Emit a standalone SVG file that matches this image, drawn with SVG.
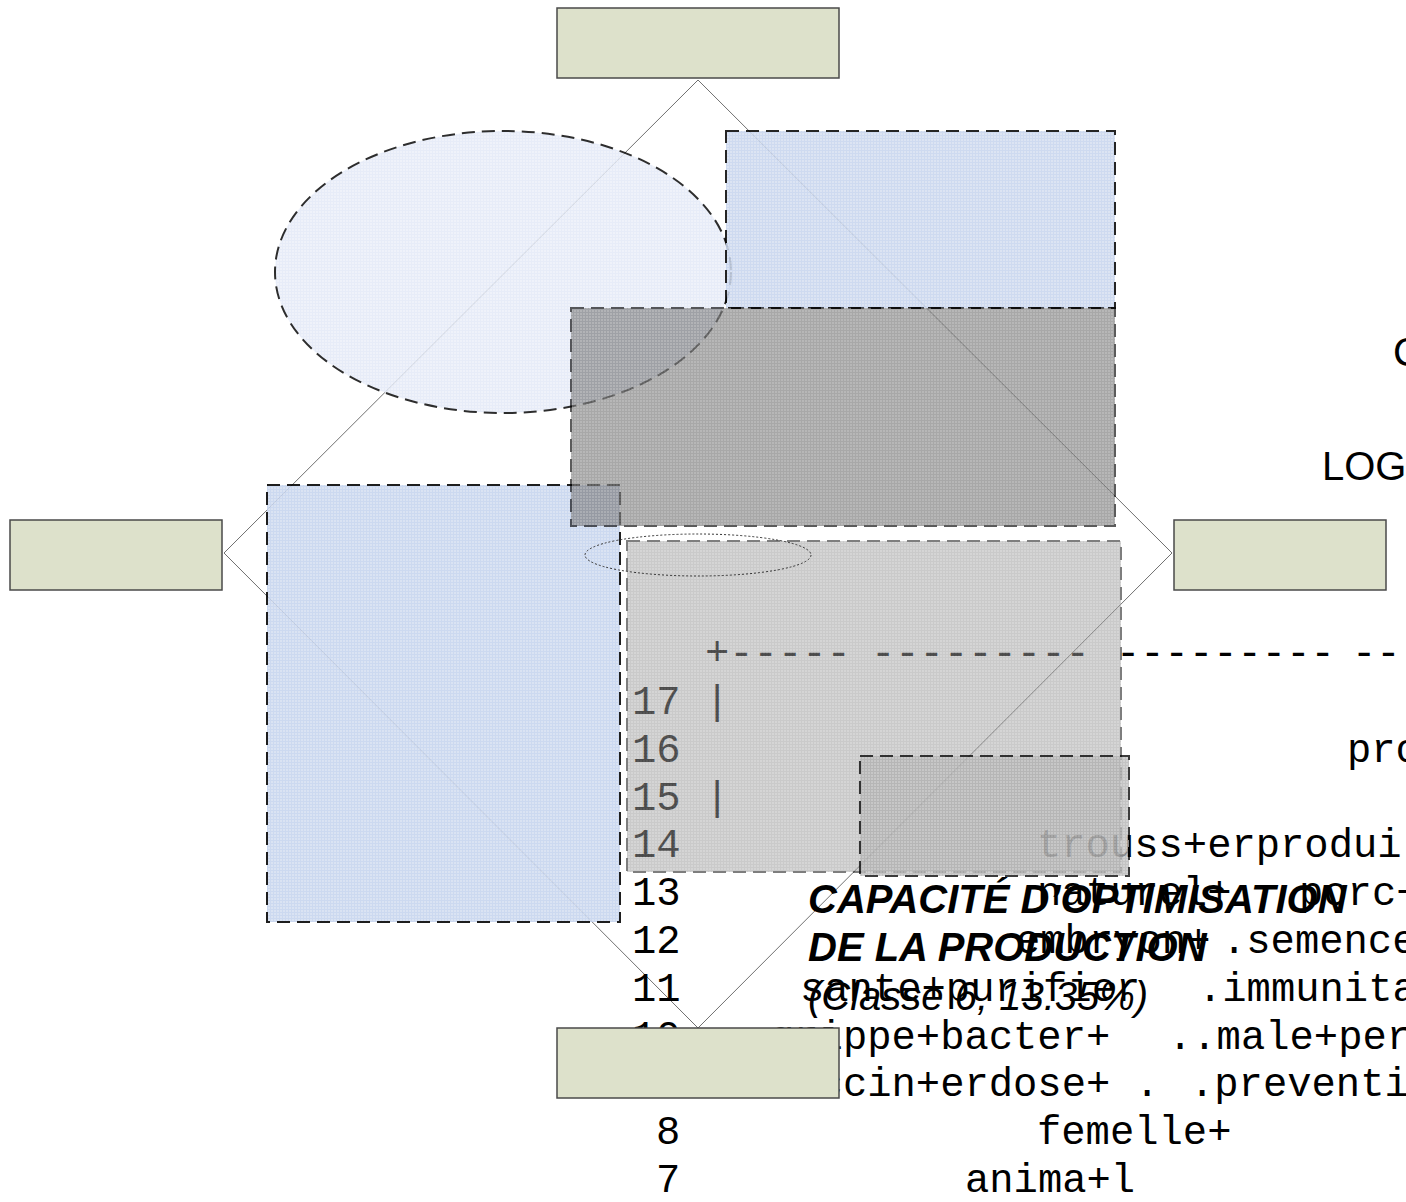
<svg xmlns="http://www.w3.org/2000/svg" width="1406" height="1202" viewBox="0 0 1406 1202">
  <style>
    .node { fill: #dde1cb; stroke: #4a4a4a; stroke-width: 1.5; }
    .link { fill: none; stroke: #707070; stroke-width: 1; }
    .zone { stroke: #000; stroke-width: 2; stroke-dasharray: 13 7; }
    .mono { font-family: "Liberation Mono", "Courier New", monospace; font-size: 40.5px; fill: #000; }
    .title { font-family: "Liberation Sans", Arial, sans-serif; font-size: 40px; font-weight: bold; font-style: italic; fill: #000; }
    .sub { font-family: "Liberation Sans", Arial, sans-serif; font-size: 40px; font-style: italic; fill: #000; }
    .side { font-family: "Liberation Sans", Arial, sans-serif; font-size: 40px; fill: #000; }
  </style>
  <defs>
    <pattern id="meshBlue" width="3" height="3" patternUnits="userSpaceOnUse">
      <rect width="3" height="3" fill="#d6e0f2"/>
      <path d="M0 0.5H3M0.5 0V3" stroke="#c6d4ee" stroke-width="1"/>
    </pattern>
    <pattern id="meshPale" width="3" height="3" patternUnits="userSpaceOnUse">
      <rect width="3" height="3" fill="#ecf0fa"/>
      <path d="M0 0.5H3M0.5 0V3" stroke="#e2e9f7" stroke-width="1"/>
    </pattern>
    <pattern id="meshDark" width="3" height="3" patternUnits="userSpaceOnUse">
      <rect width="3" height="3" fill="#909090"/>
      <path d="M0 0.5H3M0.5 0V3" stroke="#787878" stroke-width="1"/>
    </pattern>
    <pattern id="meshLight" width="3" height="3" patternUnits="userSpaceOnUse">
      <rect width="3" height="3" fill="#acacac"/>
      <path d="M0 0.5H3M0.5 0V3" stroke="#969696" stroke-width="1"/>
    </pattern>
    <pattern id="meshMid" width="3" height="3" patternUnits="userSpaceOnUse">
      <rect width="3" height="3" fill="#c3c3c3"/>
      <path d="M0 0.5H3M0.5 0V3" stroke="#b1b1b1" stroke-width="1"/>
    </pattern>
  </defs>

  <rect width="1406" height="1202" fill="#fff"/>

  <!-- diamond of connectors between the four boxes -->
  <g id="connectors">
    <path class="link" d="M698 80 L224 553"/>
    <path class="link" d="M698 80 L1172 553"/>
    <path class="link" d="M224 553 L698 1028"/>
    <path class="link" d="M1172 553 L698 1028"/>
  </g>

  <!-- dendrogram listing -->
  <g id="listing" class="mono">
    <text x="705" y="665">+-----</text>
    <text x="871" y="665">---------</text>
    <text x="1116" y="665">---------</text>
    <text x="1352" y="665">---</text>
    <text x="632" y="714">17</text><text x="705" y="714">|</text>
    <text x="632" y="762">16</text><text x="1347" y="762">pro</text>
    <text x="632" y="810">15</text><text x="705" y="810">|</text>
    <text x="632" y="857">14</text><text x="1037" y="857">trouss+erprodui</text>
    <text x="632" y="905">13</text><text x="1037" y="905">naturel+</text><text x="1299" y="905">porc+</text>
    <text x="632" y="953">12</text><text x="1016" y="953">embryon+</text><text x="1222" y="953">.semence</text>
    <text x="632" y="1001">11</text><text x="800" y="1001">sante+purifier</text><text x="1198" y="1001">.immunita</text>
    <text x="632" y="1049">10</text><text x="770" y="1049">grippe+bacter+</text><text x="1168" y="1049">..male+per</text>
    <text x="656" y="1096">9</text><text x="770" y="1096">vaccin+erdose+</text><text x="1135" y="1096">.</text><text x="1190" y="1096">.preventi</text>
    <text x="656" y="1144">8</text><text x="1037" y="1144">femelle+</text>
    <text x="656" y="1192">7</text><text x="965" y="1192">anima+l</text>
  </g>

  <!-- translucent zones -->
  <g id="zones">
    <ellipse class="zone" cx="503" cy="272" rx="228" ry="141" fill="url(#meshPale)" opacity="0.82"/>
    <rect class="zone" x="267" y="485" width="353" height="437" fill="url(#meshBlue)" opacity="0.88"/>
    <rect class="zone" x="726" y="131" width="389" height="177" fill="url(#meshBlue)" opacity="0.85"/>
    <rect class="zone" x="571" y="308" width="544" height="218" fill="url(#meshDark)" opacity="0.64"/>
    <rect class="zone" x="627" y="541" width="494" height="331" fill="url(#meshLight)" opacity="0.5"/>
    <rect class="zone" x="860" y="756" width="269" height="120" fill="url(#meshMid)" opacity="0.76"/>
    <ellipse cx="698" cy="555" rx="113" ry="21" fill="none" stroke="#333" stroke-width="1" stroke-dasharray="2 2"/>
  </g>

  <g id="node-top"><rect class="node" x="557" y="8" width="282" height="70"/></g>
  <g id="node-left"><rect class="node" x="10" y="520" width="212" height="70"/></g>
  <g id="node-right"><rect class="node" x="1174" y="520" width="212" height="70"/></g>
  <g id="node-bottom"><rect class="node" x="557" y="1028" width="282" height="70"/></g>

  <g id="labels">
    <text class="side" x="1393" y="366" font-size="28">C</text>
    <text class="side" x="1322" y="480">LOG</text>
    <text class="title" x="808" y="913">CAPACITÉ D’OPTIMISATION</text>
    <text class="title" x="808" y="961">DE LA PRODUCTION</text>
    <text class="sub" x="808" y="1010">(Classe 6, 13.35%)</text>
  </g>
</svg>
